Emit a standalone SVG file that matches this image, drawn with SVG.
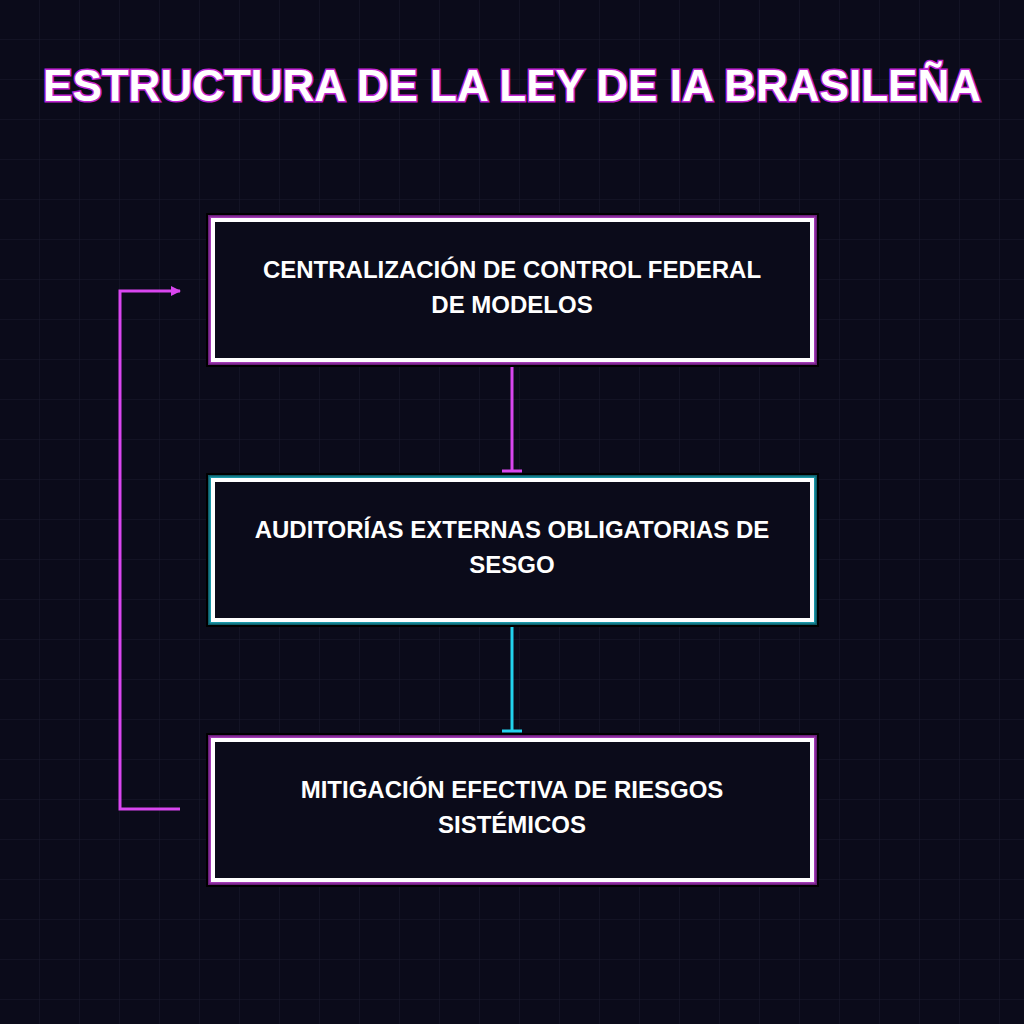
<svg xmlns="http://www.w3.org/2000/svg" width="1024" height="1024" viewBox="0 0 1024 1024">
<defs>
<pattern id="g" width="40" height="40" patternUnits="userSpaceOnUse"><path d="M40 0V40M0 40H40" fill="none" stroke="#1a1a2e" stroke-width="1"/></pattern>
<marker id="ah" markerWidth="10" markerHeight="10" refX="9" refY="5" orient="auto" markerUnits="userSpaceOnUse" viewBox="0 0 10 10"><path d="M0 0L10 5L0 10z" fill="#d946ef"/></marker>
</defs>
<style>
.t{font-family:"Liberation Sans",Arial,sans-serif;font-weight:bold;fill:#fff;text-anchor:middle}
.title{font-size:44px;stroke:#c026d3;stroke-width:3;paint-order:stroke}
.lb{font-size:24px}
.w{fill:#0b0b1a;stroke:#fff;stroke-width:4}
</style>
<rect width="1024" height="1024" fill="#0b0b1a"/>
<rect width="1024" height="1024" fill="url(#g)"/>
<text class="t title" x="512" y="101">ESTRUCTURA DE LA LEY DE IA BRASILEÑA</text>
<g id="connectors" fill="none" stroke-width="3">
<path d="M512 360V471" stroke="#d946ef"/><path d="M502 471H522" stroke="#d946ef"/>
<path d="M512 621V731" stroke="#22d3ee"/><path d="M502 731H522" stroke="#22d3ee"/>
<path d="M180 809H120V291H180" stroke="#d946ef" marker-end="url(#ah)"/>
</g>
<g id="n1">
<rect x="207" y="214" width="611" height="152" fill="none" stroke="#000" stroke-width="2"/>
<rect x="209.5" y="216.5" width="606" height="147" fill="none" stroke="#6b1f7a" stroke-width="3"/>
<rect x="211" y="218" width="603" height="144" fill="none" stroke="#a23bb5" stroke-width="3"/>
<rect class="w" x="213" y="220" width="599" height="140"/>
<text class="t lb" x="512" y="278">CENTRALIZACIÓN DE CONTROL FEDERAL</text>
<text class="t lb" x="512" y="313">DE MODELOS</text>
</g>
<g id="n2">
<rect x="207" y="474" width="611" height="152" fill="none" stroke="#000" stroke-width="2"/>
<rect x="209.5" y="476.5" width="606" height="147" fill="none" stroke="#0e5e6a" stroke-width="3"/>
<rect x="211" y="478" width="603" height="144" fill="none" stroke="#1a97a8" stroke-width="3"/>
<rect class="w" x="213" y="480" width="599" height="140"/>
<text class="t lb" x="512" y="538">AUDITORÍAS EXTERNAS OBLIGATORIAS DE</text>
<text class="t lb" x="512" y="573">SESGO</text>
</g>
<g id="n3">
<rect x="207" y="734" width="611" height="152" fill="none" stroke="#000" stroke-width="2"/>
<rect x="209.5" y="736.5" width="606" height="147" fill="none" stroke="#6b1f7a" stroke-width="3"/>
<rect x="211" y="738" width="603" height="144" fill="none" stroke="#a23bb5" stroke-width="3"/>
<rect class="w" x="213" y="740" width="599" height="140"/>
<text class="t lb" x="512" y="798">MITIGACIÓN EFECTIVA DE RIESGOS</text>
<text class="t lb" x="512" y="833">SISTÉMICOS</text>
</g>
</svg>
